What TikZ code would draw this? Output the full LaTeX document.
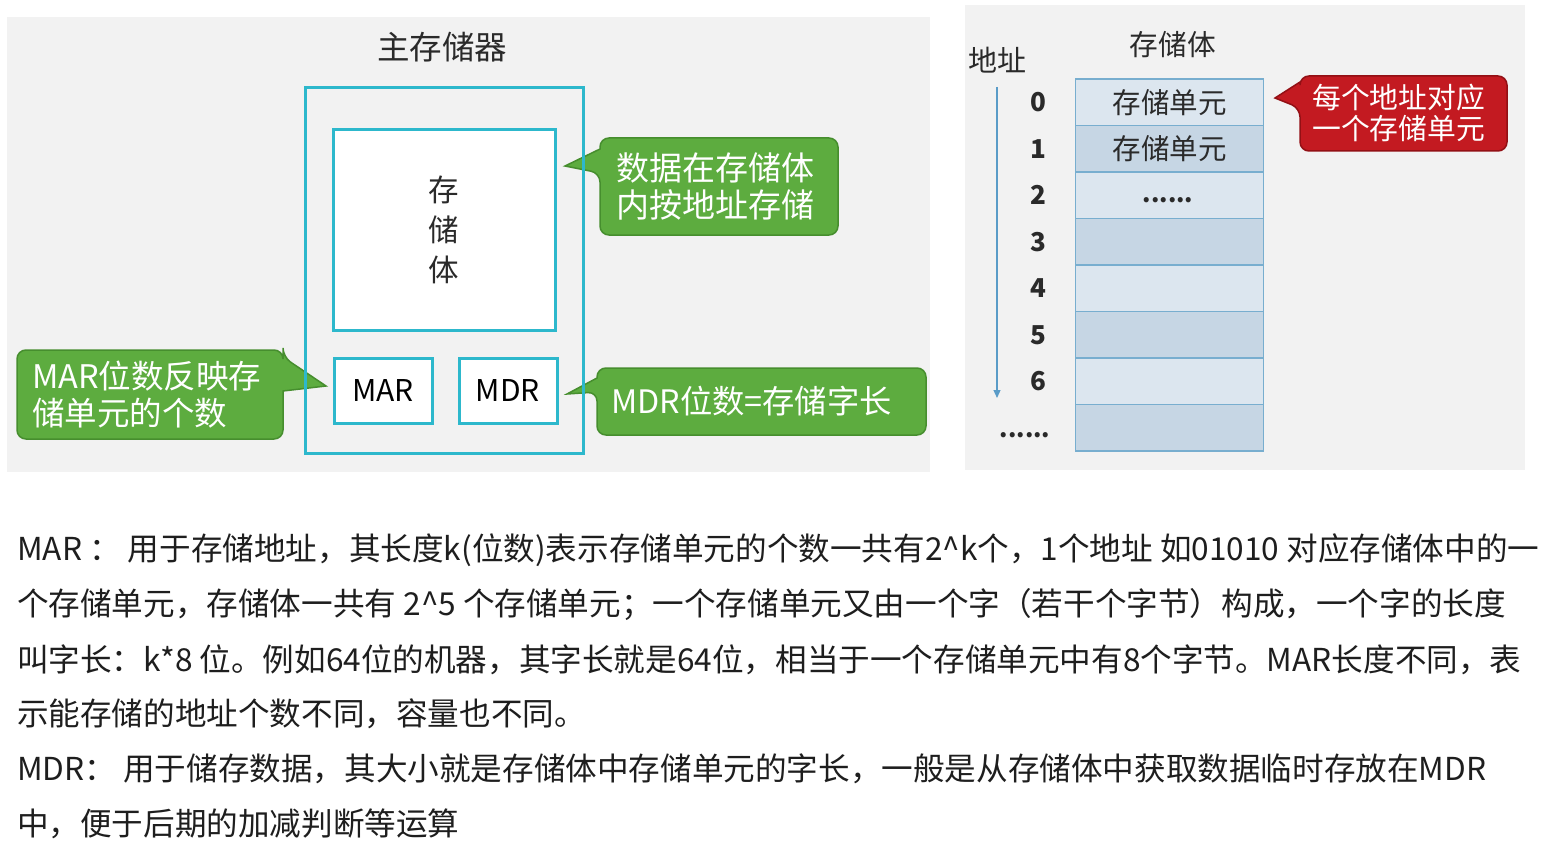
\documentclass[tikz,border=0pt]{standalone}
\usepackage{fontspec}
\setmainfont{Noto Sans CJK SC}
\usetikzlibrary{arrows.meta}
\definecolor{panel}{HTML}{F2F2F2}
\definecolor{cyanline}{HTML}{2DB8CC}
\definecolor{gfill}{HTML}{5DAC3F}
\definecolor{gborder}{HTML}{468E2E}
\definecolor{rfill}{HTML}{C31A21}
\definecolor{rborder}{HTML}{931015}
\definecolor{cellA}{HTML}{DCE6EF}
\definecolor{cellB}{HTML}{C6D6E4}
\definecolor{cellline}{HTML}{78AECF}
\definecolor{arrowblue}{HTML}{5A9CC8}
\definecolor{darktext}{HTML}{2A2A2A}
\definecolor{bodytext}{HTML}{1E1E1E}
\pgfdeclarelayer{back}
\pgfdeclarelayer{bg}
\pgfsetlayers{back,bg,main}
\newcommand{\fs}[1]{\fontsize{#1}{#1}\selectfont}
\newcommand{\celldots}{......}
\tikzset{
  cyanbox/.style={draw=cyanline, line width=3pt, fill=none, inner sep=0pt},
  regbox/.style={draw=cyanline, line width=3pt, fill=white, inner sep=0pt, minimum width=98pt, minimum height=65pt, font=\fs{30}, text=black},
  calltext/.style={inner sep=0pt, align=left, text=white, anchor=west},
  gcall/.style={fill=gfill, draw=gborder, line width=1.5pt, rounded corners=9pt},
  rcall/.style={fill=rfill, draw=rborder, line width=1.5pt, rounded corners=9pt},
  cell/.style={draw=cellline, line width=1.2pt, minimum width=188pt, minimum height=46.5pt, inner sep=0pt, font=\fs{28.5}, text=darktext},
  addr/.style={font=\fs{26}, text=darktext, inner sep=0pt},
  bodyline/.style={anchor=west, inner sep=0pt, font=\fs{31.6}, text=bodytext},
}
\begin{document}
\begin{tikzpicture}[x=1pt,y=-1pt]
\useasboundingbox (0,0) rectangle (1564,856);
\begin{pgfonlayer}{back}
\fill[white] (0,0) rectangle (1564,856);
\fill[panel] (7,17) rectangle (930,472);
\fill[panel] (965,5) rectangle (1525,470);
\end{pgfonlayer}

% ---------- left panel ----------
\node[font=\fs{32.5}, text=darktext, inner sep=0pt] (title) at (442,47) {主存储器};
\node[cyanbox, minimum width=278pt, minimum height=365pt] (mem) at (444,270.5) {};
\node[cyanbox, fill=white, minimum width=222pt, minimum height=200pt, align=center, font=\fontsize{30.5}{40}\selectfont, text=darktext] (bank) at (444,230) {存\\储\\体};
\node[regbox] (mar) at (383,390.5) {MAR};
\node[regbox] (mdr) at (508,390.5) {MDR};

% callout 1
\path (600,138) coordinate (c1nw) (838,235) coordinate (c1se);
\node[calltext, font=\fontsize{33}{37}\selectfont] (c1t) at (616,186.5) {数据在存储体\\内按地址存储};
\coordinate (t1) at (565,166);
\begin{pgfonlayer}{bg}
\draw[gcall] (c1nw -| c1se) -- (c1se) -- (c1nw |- c1se)
  -- (600,173) [sharp corners] -- (t1) -- (600,149) [rounded corners=9pt] -- (c1nw) -- cycle;
\end{pgfonlayer}

% callout 2 (MAR)
\path (17,350) coordinate (c2nw) (283,439) coordinate (c2se);
\node[calltext, font=\fontsize{32.5}{37}\selectfont] (c2t) at (32,394.5) {MAR位数反映存\\储单元的个数};
\coordinate (t2) at (326,386);
\begin{pgfonlayer}{bg}
\draw[gcall] (c2nw |- c2se) -- (c2nw) -- (c2nw -| c2se)
  -- (283,357) [sharp corners] -- (t2) -- (283,391) [rounded corners=9pt] -- (c2se) -- cycle;
\end{pgfonlayer}

% callout 3 (MDR)
\path (597,368) coordinate (c3nw) (926,435) coordinate (c3se);
\node[calltext, font=\fs{32.3}] (c3t) at (611,401.5) {MDR位数=存储字长};
\coordinate (t3) at (567,394);
\begin{pgfonlayer}{bg}
\draw[gcall] (c3nw -| c3se) -- (c3se) -- (c3nw |- c3se)
  -- (597,392) [sharp corners] -- (t3) -- (597,378) [rounded corners=9pt] -- (c3nw) -- cycle;
\end{pgfonlayer}

% ---------- right panel ----------
\node[font=\fs{29}, text=darktext, inner sep=0pt] (addrlabel) at (997,60) {地址};
\node[font=\fs{28.7}, text=darktext, inner sep=0pt] (banklabel) at (1173,45) {存储体};
\foreach \i/\c/\t in {0/cellA/存储单元,1/cellB/存储单元,2/cellA/,3/cellB/,4/cellA/,5/cellB/,6/cellA/,7/cellB/}{
  \node[cell, fill=\c] (r\i) at (1169.5,{79+46.5*(\i+0.5)}) {\t};
}
\node[addr, font=\bfseries\fs{24}] (rdots) at (1168,200) {\celldots};
\foreach \i in {0,...,6}{
  \node[addr, font=\bfseries\fs{26}] (a\i) at (1038,{79+46.5*(\i+0.5)}) {\i};
}
\node[addr, font=\bfseries\fs{24}] (adots) at (1025,435) {\celldots};
\coordinate (arrtop) at (997,87);
\coordinate (arrbot) at (997,398);
\draw[arrowblue, line width=1.2pt, -{Triangle[width=7pt,length=8pt]}] (arrtop) -- (arrbot);

% red callout
\path (1300,76) coordinate (c4nw) (1507,151) coordinate (c4se);
\node[calltext, font=\fontsize{28.8}{31}\selectfont] (c4t) at (1312,113) {每个地址对应\\一个存储单元};
\coordinate (t4) at (1275,98);
\begin{pgfonlayer}{bg}
\draw[rcall] (c4nw -| c4se) -- (c4se) -- (c4nw |- c4se)
  -- (1300,108) [sharp corners] -- (t4) -- (1300,82) [rounded corners=9pt] -- (c4nw) -- cycle;
\end{pgfonlayer}

% ---------- paragraph ----------
\node[bodyline] (l1) at (17,550) {MAR ： 用于存储地址，其长度k(位数)表示存储单元的个数一共有2\^{}k个，1个地址 如01010 对应存储体中的一};
\node[bodyline] (l2) at (17,605) {个存储单元，存储体一共有 2\^{}5 个存储单元；一个存储单元又由一个字（若干个字节）构成，一个字的长度};
\node[bodyline] (l3) at (17,660) {叫字长：k*8 位。例如64位的机器，其字长就是64位，相当于一个存储单元中有8个字节。MAR长度不同，表};
\node[bodyline] (l4) at (17,714) {示能存储的地址个数不同，容量也不同。};
\node[bodyline] (l5) at (17,769) {MDR： 用于储存数据，其大小就是存储体中存储单元的字长，一般是从存储体中获取数据临时存放在MDR};
\node[bodyline] (l6) at (17,824) {中，便于后期的加减判断等运算};
\end{tikzpicture}
\end{document}
